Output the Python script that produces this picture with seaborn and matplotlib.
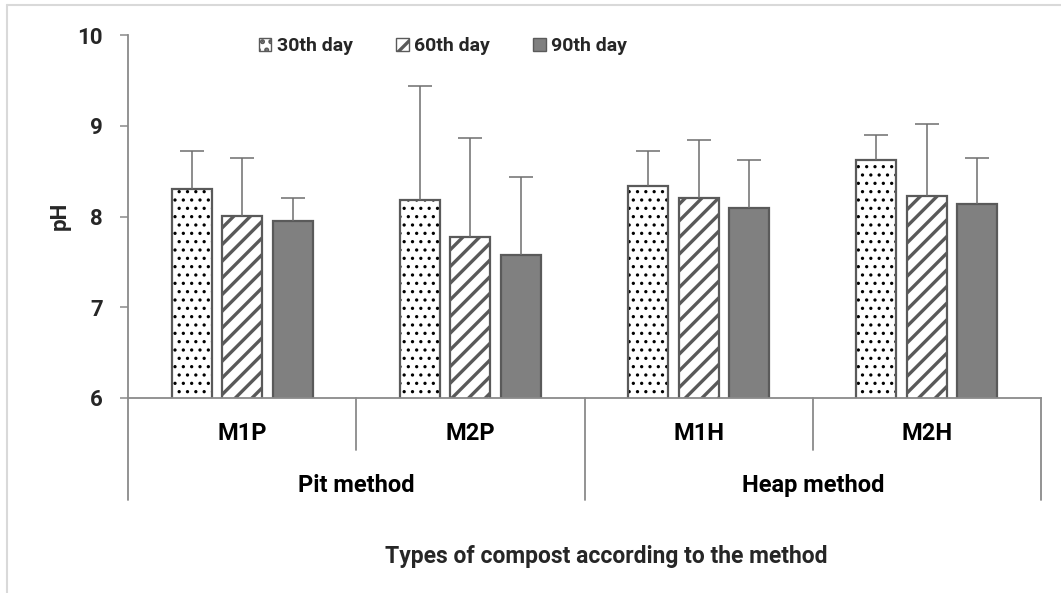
import matplotlib
matplotlib.use("Agg")
import matplotlib.pyplot as plt
import seaborn as sns
import pandas as pd
from matplotlib.patches import Rectangle, Patch
from matplotlib.lines import Line2D
from matplotlib.transforms import blended_transform_factory

# pH of the composts at three sampling times (mean and upper SD)
composts = ["M1P", "M2P", "M1H", "M2H"]
methods = ["Pit method", "Heap method"]
days = ["30th day", "60th day", "90th day"]
ph_30 = [8.30, 8.18, 8.34, 8.62]
ph_60 = [8.01, 7.77, 8.20, 8.23]
ph_90 = [7.95, 7.58, 8.09, 8.14]
sd_30 = [0.42, 1.26, 0.38, 0.28]
sd_60 = [0.64, 1.10, 0.64, 0.79]
sd_90 = [0.25, 0.85, 0.53, 0.51]
y_ticks = [6, 7, 8, 9, 10]

ph_by_day = [ph_30, ph_60, ph_90]
sd_by_day = [sd_30, sd_60, sd_90]

df = pd.DataFrame({
    "compost": composts * 3,
    "day": [d for d in days for _ in composts],
    "ph": ph_30 + ph_60 + ph_90,
})

sns.set_theme(style="white")
plt.rcParams["font.family"] = ["Roboto", "DejaVu Sans"]
plt.rcParams["font.weight"] = "bold"
plt.rcParams["hatch.linewidth"] = 2.4

EDGE = "#5a5a5a"
AXIS = "#8a8a8a"
ERR = "#6e6e6e"
hatches = ["..", "//", ""]
hatch_cols = ["#000000", "#595959", EDGE]
hatch_lw = [1.15, 2.4, 1.0]
faces = ["white", "white", "#808080"]


def set_hatch_width(patch, lw):
    if hasattr(patch, "set_hatch_linewidth"):
        patch.set_hatch_linewidth(lw)


W, H = 1061, 593
fig = plt.figure(figsize=(W / 100, H / 100), dpi=100)
ax = fig.add_axes([128 / W, 1 - 398 / H, (1041 - 128) / W, (398 - 35) / H])

sns.barplot(data=df, x="compost", y="ph", hue="day", order=composts,
            hue_order=days, width=0.665, gap=0.21, errorbar=None,
            legend=False, ax=ax)

bar_groups = list(ax.containers)
for i, cont in enumerate(bar_groups):
    xs, ys = [], []
    for bar in cont:
        bar.set_facecolor(faces[i])
        bar.set_hatch(hatches[i])
        bar.set_edgecolor(hatch_cols[i])
        bar.set_linewidth(0)
        set_hatch_width(bar, hatch_lw[i])
        ax.add_patch(Rectangle((bar.get_x(), bar.get_y()), bar.get_width(),
                               bar.get_height(), fill=False, edgecolor=EDGE,
                               linewidth=1.6, zorder=bar.get_zorder() + 0.1))
        xs.append(bar.get_x() + bar.get_width() / 2)
        ys.append(bar.get_height())
    _, caps, _ = ax.errorbar(xs, ys, yerr=[[0] * len(xs), sd_by_day[i]],
                             fmt="none", ecolor=ERR, elinewidth=1.1,
                             capsize=8.6, capthick=1.1, zorder=5)
    caps[0].set_visible(False)

ax.set_ylim(6, 10)
ax.set_xlim(-0.5, 3.5)
ax.set_yticks(y_ticks)
ax.set_yticklabels([str(t) for t in y_ticks], fontsize=16, fontweight="bold")
ax.set_xticks([])
ax.set_xlabel("")
ax.set_ylabel("")
ax.tick_params(axis="y", left=True, length=6, width=1.1, color=AXIS, pad=12)
for side in ["top", "right"]:
    ax.spines[side].set_visible(False)
for side in ["left", "bottom"]:
    ax.spines[side].set_color(AXIS)
    ax.spines[side].set_linewidth(1.3)

# two-level category axis below the plot
trans = blended_transform_factory(ax.transData, ax.transAxes)
inner = -52 / 363
outer = -102 / 363
for xb in [-0.5, 1.5, 3.5]:
    ax.add_line(Line2D([xb, xb], [0, outer], transform=trans, color=AXIS,
                       lw=1.3, clip_on=False))
for xb in [0.5, 2.5]:
    ax.add_line(Line2D([xb, xb], [0, inner], transform=trans, color=AXIS,
                       lw=1.3, clip_on=False))
for j, name in enumerate(composts):
    ax.text(j, -42 / 363, name, transform=trans, ha="center", va="baseline",
            fontsize=17, fontweight="bold", color="black")
for k, name in enumerate(methods):
    ax.text(2 * k + 0.5, -94 / 363, name, transform=trans, ha="center",
            va="baseline", fontsize=17, fontweight="bold", color="black")

fig.text(606 / W, 1 - 557 / H, "Types of compost according to the method",
         ha="center", va="center", fontsize=16.5, fontweight="bold")
fig.text(60 / W, 1 - 216 / H, "pH", rotation=90, ha="center", va="center",
         fontsize=16, fontweight="bold")

handles = [Patch(facecolor=faces[i], edgecolor=EDGE, hatch=hatches[i],
                 linewidth=1.0) for i in range(3)]
for i, hnd in enumerate(handles):
    set_hatch_width(hnd, min(hatch_lw[i], 1.5))
fig.legend(handles, days, loc="center", bbox_to_anchor=(443 / W, 1 - 46 / H),
           ncol=3, frameon=False, handlelength=0.65,
           handleheight=0.65, handletextpad=0.3, columnspacing=2.2,
           prop={"weight": "bold", "size": 14})

# light chart-area border
fig.add_artist(Line2D([7 / W, 7 / W], [0, 1 - 5 / H], transform=fig.transFigure,
                      color="#d9d9d9", lw=1.5))
fig.add_artist(Line2D([7 / W, 1], [1 - 5 / H, 1 - 5 / H],
                      transform=fig.transFigure, color="#d9d9d9", lw=1.5))

fig.savefig("out.png", dpi=100)
